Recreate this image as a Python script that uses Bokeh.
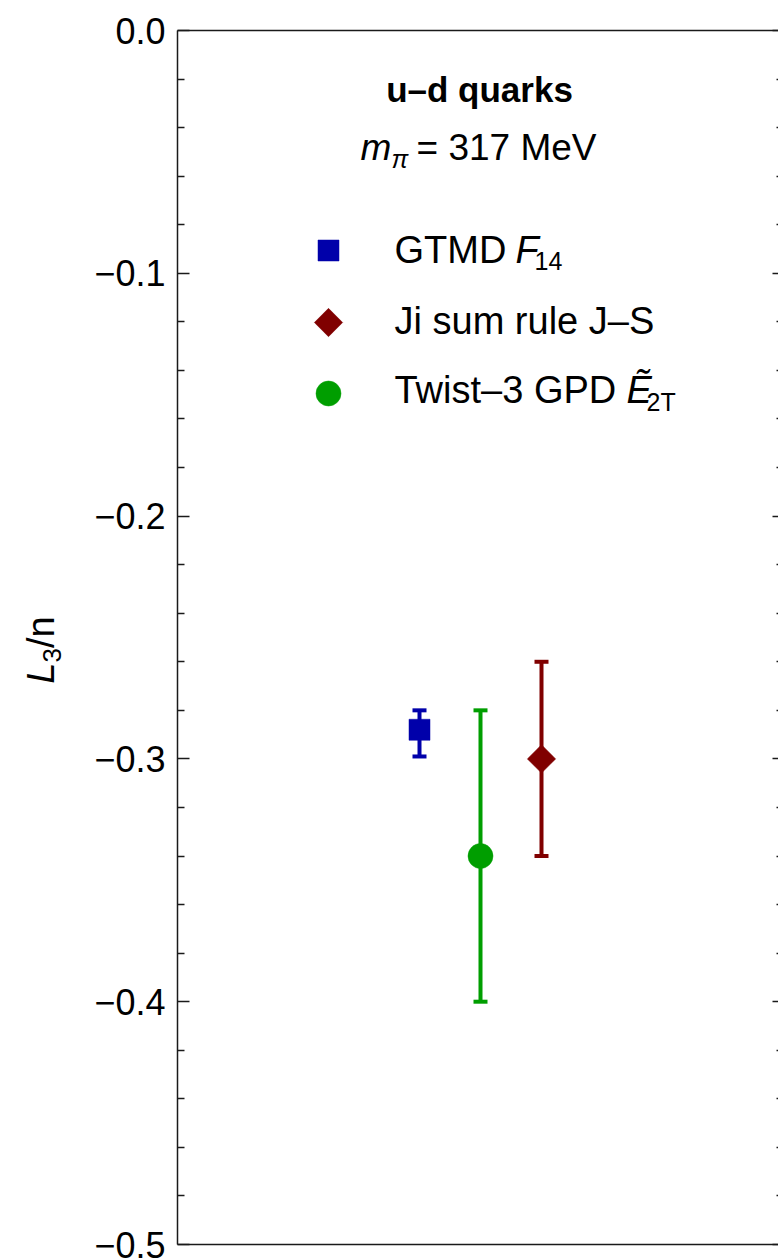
import numpy as np
from bokeh.plotting import figure
from bokeh.layouts import row
from bokeh.models import (Label, Whisker, TeeHead, ColumnDataSource, FixedTicker,
                          CustomJSTickFormatter, LinearAxis, Range1d)
from bokeh.embed import file_html
from bokeh.resources import INLINE

# ---------------- data ----------------
series = ["GTMD F14", "Twist-3 GPD E2T", "Ji sum rule J-S"]
xpos = [1, 2, 3]
center = [-0.288, -0.340, -0.300]
lower = [-0.299, -0.400, -0.340]
upper = [-0.280, -0.280, -0.260]

y_major = [0.0, -0.1, -0.2, -0.3, -0.4, -0.5]
y_minor = [round(-0.02 * i, 2) for i in range(0, 26) if i % 5 != 0]

# ---------------- style ----------------
colors = ["#0000aa", "#009e00", "#800000"]
markers = ["square", "circle", "square"]
msizes = [21, 25, 20]
mangles = [0.0, 0.0, np.pi / 4]
FONT = "Liberation Sans"
K = 0.36   # empirical shift: rendered baseline sits ~0.36 em below the anchor

TOTAL_W, H = 778, 1258
LW = 80                      # width of the strip holding the y-axis title
W = TOTAL_W - LW
FRAME_L, FRAME_T, FRAME_B = 177, 30, 1244
BL, BT, BB = FRAME_L - LW, FRAME_T, H - FRAME_B
PX_PER_X = 61.0
X_START = 1 - (419 - FRAME_L) / PX_PER_X
X_END = X_START + (TOTAL_W - FRAME_L) / PX_PER_X
Y_START, Y_END = -0.5, 0.0


def X(px):
    return X_START + (px - FRAME_L) / PX_PER_X


def Y(py):
    return Y_END - (py - FRAME_T) / (FRAME_B - FRAME_T) * (Y_END - Y_START)


p = figure(width=W, height=H, x_range=(X_START, X_END), y_range=(Y_START, Y_END),
           output_backend="svg", toolbar_location=None,
           min_border_left=BL, min_border_right=0, min_border_top=BT, min_border_bottom=BB)
p.outline_line_color = None
p.grid.visible = False
p.background_fill_color = "white"
p.border_fill_color = "white"

AX_COL = "#1a1a1a"
ticker = FixedTicker(ticks=y_major, minor_ticks=y_minor)

# left axis
ya = p.yaxis[0]
ya.ticker = ticker
ya.formatter = CustomJSTickFormatter(
    code="return Math.abs(tick) < 1e-9 ? '0.0' : tick.toFixed(1).replace('-', '\u2212');")
ya.major_tick_in = 12
ya.major_tick_out = 0
ya.minor_tick_in = 7
ya.minor_tick_out = 0
ya.major_label_standoff = 12
ya.major_label_text_font = FONT
ya.major_label_text_font_size = "36px"
ya.major_label_text_color = "black"
ya.axis_line_color = AX_COL
ya.axis_line_width = 1.5
ya.major_tick_line_color = AX_COL
ya.minor_tick_line_color = AX_COL
ya.major_tick_line_width = 1.5
ya.minor_tick_line_width = 1.5

# bottom axis: line only
xa = p.xaxis[0]
xa.ticker = FixedTicker(ticks=[])
xa.major_label_standoff = 0
xa.major_tick_out = 0
xa.minor_tick_out = 0
xa.axis_line_color = AX_COL
xa.axis_line_width = 1.5

# top axis: line only
ta = LinearAxis(ticker=FixedTicker(ticks=[]), major_label_standoff=0, major_tick_out=0,
                minor_tick_out=0, axis_line_color=AX_COL, axis_line_width=1.5)
p.add_layout(ta, "above")

# right axis: ticks only (the frame edge itself lies just past the window)
ra = LinearAxis(ticker=ticker, formatter=CustomJSTickFormatter(code="return '';"),
                axis_line_color=None, major_tick_in=6, major_tick_out=0,
                minor_tick_in=2, minor_tick_out=0, major_label_standoff=0,
                major_tick_line_color=AX_COL, minor_tick_line_color=AX_COL,
                major_tick_line_width=1.5, minor_tick_line_width=1.5)
p.add_layout(ra, "right")

# ---------------- data marks ----------------
for i in range(len(series)):
    s = ColumnDataSource(dict(x=[xpos[i]], y=[center[i]], lo=[lower[i]], hi=[upper[i]]))
    w = Whisker(source=s, base="x", lower="lo", upper="hi", dimension="height",
                line_color=colors[i], line_width=4, level="underlay",
                upper_head=TeeHead(size=14, line_color=colors[i], line_width=4),
                lower_head=TeeHead(size=14, line_color=colors[i], line_width=4))
    p.add_layout(w)
    p.scatter(x="x", y="y", source=s, marker=markers[i], size=msizes[i], angle=mangles[i],
              fill_color=colors[i], line_color=colors[i], line_width=0.5)

# ---------------- legend (manual) ----------------
leg_x = X(328)
leg_rows = {0: 250, 2: 322, 1: 393}  # series index -> row pixel
for i, py in leg_rows.items():
    p.scatter(x=[leg_x], y=[Y(py)], marker=markers[i], size=msizes[i], angle=mangles[i],
              fill_color=colors[i], line_color=colors[i], line_width=0.5)


def lab(fig, text, x, y, size, style="normal", align="left", angle=0.0):
    fig.add_layout(Label(x=x, y=y, text=text, text_font=FONT,
                         text_font_size=f"{size}px", text_font_style=style,
                         text_align=align, text_baseline="alphabetic",
                         text_color="black", angle=angle))


def plab(text, px, py, size, style="normal", align="left"):
    # py is the wanted baseline in page pixels
    lab(p, text, X(px), Y(py - K * size), size, style, align)


# title block
plab("u\u2013d quarks", 479, 102, 35, style="bold", align="center")
plab("m", 360, 160, 37, style="italic")
plab("\u03c0", 391, 167, 25, style="italic")
plab("= 317 MeV", 416, 160, 37)

# legend texts
plab("GTMD", 394, 263, 38)
plab("F", 515, 263, 38, style="italic")
plab("14", 534, 269, 25)
plab("Ji sum rule J\u2013S", 394, 334, 38)
plab("Twist\u20133 GPD", 394, 403, 38)
plab("\u1ebc", 626, 403, 38, style="italic")
plab("2T", 646, 410, 25)

# ---------------- y-axis title strip ----------------
pl = figure(width=LW, height=H, x_range=Range1d(0, LW), y_range=Range1d(H, 0),
            output_backend="svg", toolbar_location=None,
            x_axis_location=None, y_axis_location=None,
            min_border_left=0, min_border_right=0, min_border_top=0, min_border_bottom=0)
pl.outline_line_color = None
pl.grid.visible = False
pl.background_fill_color = "white"
pl.border_fill_color = "white"
# rotated text reads upward; its baseline is a vertical line (x = baseline)
lab(pl, "L", 54 - K * 38, 677, 38, style="italic", angle=np.pi / 2)
lab(pl, "3", 61 - K * 26, 655, 26, angle=np.pi / 2)
lab(pl, "/n", 54 - K * 38, 640, 38, angle=np.pi / 2)

layout = row(pl, p, spacing=0)
open("out.html", "w").write(file_html(layout, INLINE))
